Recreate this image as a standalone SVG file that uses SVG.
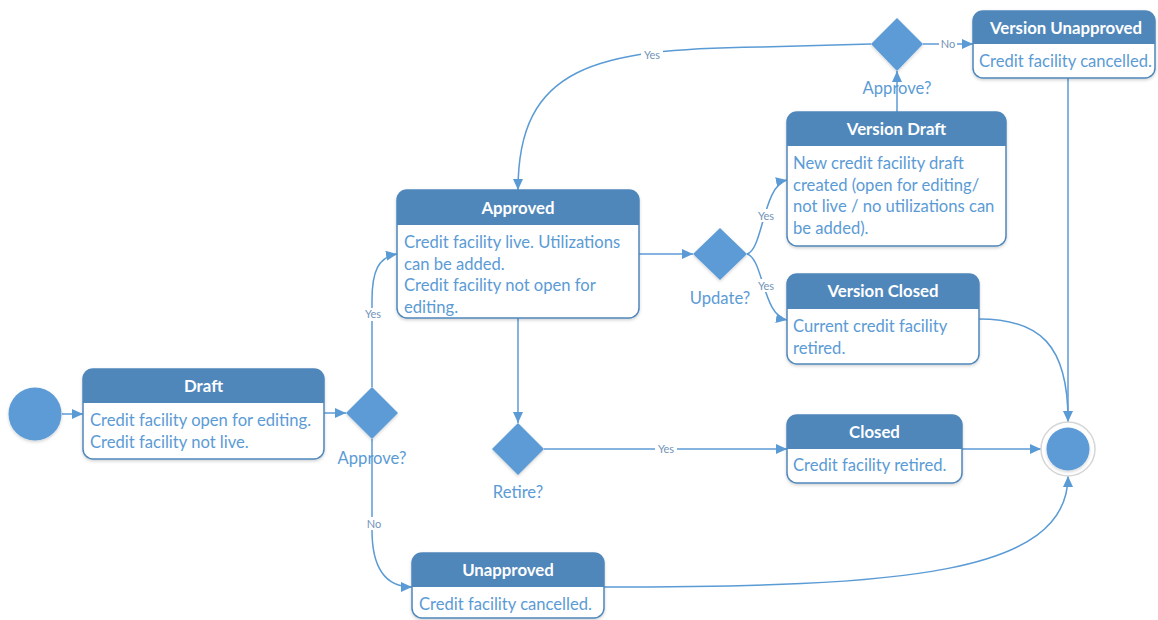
<svg xmlns="http://www.w3.org/2000/svg" width="1158" height="620" viewBox="0 0 1158 620">
<style>
.box{fill:#ffffff;stroke:#4f87bb;stroke-width:1.5;filter:url(#sh)}
.hdr{fill:#4f87bb}
.ttl{font-family:Lato,"Liberation Sans",sans-serif;font-size:16.8px;font-weight:700;fill:#ffffff;text-anchor:middle}
.txt{font-family:Lato,"Liberation Sans",sans-serif;font-size:16.6px;fill:#5b9bd5}
.dl{font-family:Lato,"Liberation Sans",sans-serif;font-size:16.6px;fill:#5b9bd5;text-anchor:middle}
.dia{fill:#5b9bd5;filter:url(#sh)}
.ln{fill:none;stroke:#5b9bd5;stroke-width:1.5}
.arr{marker-end:url(#ah)}
.lbg{fill:#ffffff}
.lb{font-family:Lato,"Liberation Sans",sans-serif;font-size:11px;fill:#7393b8;text-anchor:middle}
</style>
<defs>
<marker id="ah" markerUnits="userSpaceOnUse" markerWidth="12" markerHeight="10" refX="11" refY="5" orient="auto">
<path d="M0,0 L11,5 L0,10 Z" fill="#5b9bd5"/>
</marker>
<filter id="sh" x="-10%" y="-10%" width="120%" height="130%">
<feDropShadow dx="0" dy="1.5" stdDeviation="1.5" flood-color="#000000" flood-opacity="0.18"/>
</filter>
</defs>
<rect width="1158" height="620" fill="#ffffff"/>

<g id="connectors">
<path class="ln arr" d="M62,414 L83,414"/>
<path class="ln arr" d="M324,413 L346,413"/>
<path class="ln arr" d="M372,387 L372,300 C372,272 378,257 397,254"/>
<path class="ln arr" d="M372,439 L372,530 C372,568 385,587 412,587"/>
<path class="ln arr" d="M639,254 L693,254"/>
<path class="ln arr" d="M747,254 C763,250 763,185 787,180"/>
<path class="ln arr" d="M747,254 C763,258 763,316 787,320"/>
<path class="ln arr" d="M897,112 L897,71"/>
<path class="ln arr" d="M923,44 L973,44"/>
<path class="ln arr" d="M871,44 L760,47 C595,49 518,66 518,190"/>
<path class="ln arr" d="M1068,78 L1068,422"/>
<path class="ln" d="M979,319 C1040,319 1068,345 1068,420"/>
<path class="ln arr" d="M518,318 L518,423"/>
<path class="ln arr" d="M544,449 L787,449"/>
<path class="ln arr" d="M962,449 L1041,449"/>
<path class="ln arr" d="M604,587 C900,587 1068,575 1068,476"/>
<rect class="lbg" x="362" y="308" width="22" height="13"/>
<text class="lb" x="373" y="318">Yes</text>
<rect class="lbg" x="365" y="517" width="18" height="13"/>
<text class="lb" x="374" y="528">No</text>
<rect class="lbg" x="641" y="48" width="22" height="13"/>
<text class="lb" x="652" y="59">Yes</text>
<rect class="lbg" x="939" y="38" width="18" height="12"/>
<text class="lb" x="948" y="48">No</text>
<rect class="lbg" x="755" y="209" width="22" height="13"/>
<text class="lb" x="766" y="220">Yes</text>
<rect class="lbg" x="755" y="279" width="22" height="13"/>
<text class="lb" x="766" y="290">Yes</text>
<rect class="lbg" x="655" y="443" width="22" height="12"/>
<text class="lb" x="666" y="453">Yes</text>
</g>

<g id="initial">
<circle cx="35" cy="414" r="26.5" fill="#5b9bd5" filter="url(#sh)"/>
</g>

<g id="final">
<circle cx="1068" cy="449" r="27" fill="#ffffff" stroke="#d6d6d6" stroke-width="1.5"/>
<circle cx="1068" cy="449" r="21.5" fill="#5b9bd5" filter="url(#sh)"/>
</g>

<g id="draft">
<rect class="box" x="83" y="369" width="241" height="90" rx="10"/>
<path class="hdr" d="M83,403 L83,379 Q83,369 93,369 L314,369 Q324,369 324,379 L324,403 Z"/>
<text class="ttl" x="203.5" y="392">Draft</text>
<text class="txt" x="90" y="426">Credit facility open for editing.</text>
<text class="txt" x="90" y="447.5">Credit facility not live.</text>
</g>

<g id="approve1">
<polygon class="dia" points="372,387 398,413 372,439 346,413"/>
<text class="dl" x="372" y="464">Approve?</text>
</g>

<g id="approved">
<rect class="box" x="397" y="190" width="242" height="128" rx="10"/>
<path class="hdr" d="M397,225 L397,200 Q397,190 407,190 L629,190 Q639,190 639,200 L639,225 Z"/>
<text class="ttl" x="518" y="213.5">Approved</text>
<text class="txt" x="404" y="248">Credit facility live. Utilizations</text>
<text class="txt" x="404" y="269.7">can be added.</text>
<text class="txt" x="404" y="291.4">Credit facility not open for</text>
<text class="txt" x="404" y="313.1">editing.</text>
</g>

<g id="update">
<polygon class="dia" points="720,228 747,254 720,280 693,254"/>
<text class="dl" x="720" y="304">Update?</text>
</g>

<g id="retire">
<polygon class="dia" points="518,423 544,449 518,475 492,449"/>
<text class="dl" x="518" y="498">Retire?</text>
</g>

<g id="versionDraft">
<rect class="box" x="787" y="112" width="219" height="134" rx="10"/>
<path class="hdr" d="M787,146 L787,122 Q787,112 797,112 L996,112 Q1006,112 1006,122 L1006,146 Z"/>
<text class="ttl" x="896.5" y="135">Version Draft</text>
<text class="txt" x="793" y="169">New credit facility draft</text>
<text class="txt" x="793" y="190.7">created (open for editing/</text>
<text class="txt" x="793" y="212.4">not live / no utilizations can</text>
<text class="txt" x="793" y="234.1">be added).</text>
</g>

<g id="approve2">
<polygon class="dia" points="897,18 923,44 897,71 871,44"/>
<text class="dl" x="897" y="94">Approve?</text>
</g>

<g id="versionUnapproved">
<rect class="box" x="973" y="11" width="182" height="67" rx="10"/>
<path class="hdr" d="M973,44 L973,21 Q973,11 983,11 L1145,11 Q1155,11 1155,21 L1155,44 Z"/>
<text class="ttl" x="1066" y="34">Version Unapproved</text>
<text class="txt" x="979" y="67">Credit facility cancelled.</text>
</g>

<g id="versionClosed">
<rect class="box" x="787" y="274" width="192" height="90" rx="10"/>
<path class="hdr" d="M787,309 L787,284 Q787,274 797,274 L969,274 Q979,274 979,284 L979,309 Z"/>
<text class="ttl" x="883" y="297">Version Closed</text>
<text class="txt" x="793" y="332">Current credit facility</text>
<text class="txt" x="793" y="353.7">retired.</text>
</g>

<g id="closed">
<rect class="box" x="787" y="415" width="175" height="68" rx="10"/>
<path class="hdr" d="M787,449 L787,425 Q787,415 797,415 L952,415 Q962,415 962,425 L962,449 Z"/>
<text class="ttl" x="874.5" y="438">Closed</text>
<text class="txt" x="793" y="471">Credit facility retired.</text>
</g>

<g id="unapproved">
<rect class="box" x="412" y="553" width="192" height="65" rx="10"/>
<path class="hdr" d="M412,587 L412,563 Q412,553 422,553 L594,553 Q604,553 604,563 L604,587 Z"/>
<text class="ttl" x="508" y="576">Unapproved</text>
<text class="txt" x="419" y="610">Credit facility cancelled.</text>
</g>
</svg>
